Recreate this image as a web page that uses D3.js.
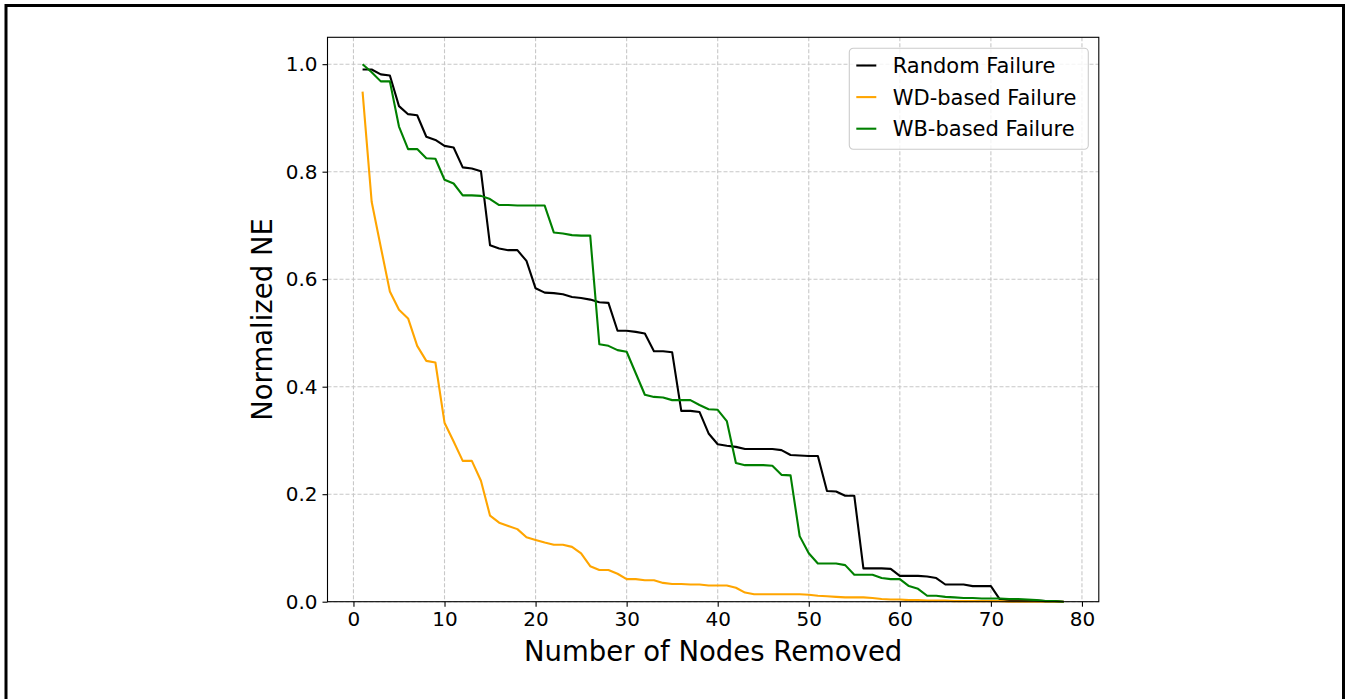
<!DOCTYPE html>
<html>
<head>
<meta charset="utf-8">
<script src="https://cdn.jsdelivr.net/npm/d3@7"></script>
<style>
  html, body { margin: 0; padding: 0; background: #fff; }
  svg { display: block; }
  text { font-family: "DejaVu Sans", sans-serif; fill: #000; }
</style>
</head>
<body>
<svg id="chart" width="1349" height="699"></svg>
<script>
// Nodes removed (x values)
const nodes = d3.range(1, 79);

// Normalized network efficiency after each removal
const randomFailure = [
  0.990, 0.990, 0.981, 0.979, 0.922, 0.907, 0.905, 0.865, 0.859, 0.848,
  0.845, 0.808, 0.806, 0.801, 0.663, 0.657, 0.654, 0.654, 0.634, 0.583,
  0.575, 0.574, 0.572, 0.567, 0.565, 0.562, 0.557, 0.556, 0.504, 0.504,
  0.502, 0.499, 0.466, 0.466, 0.464, 0.355, 0.355, 0.353, 0.313, 0.293,
  0.290, 0.288, 0.284, 0.284, 0.284, 0.284, 0.282, 0.273, 0.272, 0.271,
  0.271, 0.206, 0.205, 0.197, 0.197, 0.062, 0.062, 0.062, 0.061, 0.048,
  0.048, 0.048, 0.047, 0.044, 0.032, 0.032, 0.032, 0.029, 0.029, 0.029,
  0.004, 0.003, 0.003, 0.002, 0.002, 0.001, 0.001, 0.000
];
const wdFailure = [
  0.949, 0.744, 0.660, 0.577, 0.543, 0.527, 0.476, 0.448, 0.445, 0.333,
  0.298, 0.262, 0.262, 0.225, 0.160, 0.147, 0.141, 0.135, 0.120, 0.115,
  0.110, 0.106, 0.106, 0.102, 0.090, 0.066, 0.059, 0.059, 0.052, 0.042,
  0.042, 0.040, 0.040, 0.035, 0.033, 0.033, 0.032, 0.032, 0.030, 0.030,
  0.030, 0.026, 0.017, 0.014, 0.014, 0.014, 0.014, 0.014, 0.014, 0.013,
  0.011, 0.010, 0.009, 0.008, 0.008, 0.008, 0.007, 0.005, 0.004, 0.004,
  0.003, 0.003, 0.002, 0.002, 0.002, 0.001, 0.001, 0.001, 0.001, 0.001,
  0.001, 0.000, 0.000, 0.000, 0.000, 0.000, 0.000, 0.000
];
const wbFailure = [
  1.000, 0.985, 0.968, 0.968, 0.884, 0.842, 0.842, 0.825, 0.824, 0.785,
  0.778, 0.756, 0.756, 0.755, 0.749, 0.738, 0.738, 0.737, 0.737, 0.737,
  0.737, 0.687, 0.685, 0.682, 0.681, 0.681, 0.479, 0.476, 0.468, 0.465,
  0.425, 0.385, 0.381, 0.380, 0.375, 0.375, 0.375, 0.366, 0.358, 0.357,
  0.336, 0.258, 0.254, 0.254, 0.254, 0.253, 0.236, 0.235, 0.122, 0.090,
  0.071, 0.071, 0.071, 0.068, 0.050, 0.050, 0.050, 0.044, 0.042, 0.042,
  0.029, 0.024, 0.011, 0.011, 0.009, 0.008, 0.007, 0.007, 0.006, 0.006,
  0.006, 0.005, 0.005, 0.004, 0.003, 0.001, 0.001, 0.000
];

const seriesNames = ["Random Failure", "WD-based Failure", "WB-based Failure"];
const seriesColors = ["#000000", "#ffa500", "#008000"];
const xTicks = [0, 10, 20, 30, 40, 50, 60, 70, 80];
const yTicks = [0.0, 0.2, 0.4, 0.6, 0.8, 1.0];

const svg = d3.select("#chart");

// outer frame
svg.append("rect")
  .attr("x", 6).attr("y", 5.5)
  .attr("width", 1337.5).attr("height", 700)
  .attr("fill", "none").attr("stroke", "#000").attr("stroke-width", 3);

const plot = { left: 327.5, top: 37.3, right: 1098.8, bottom: 601.7 };

const x = d3.scaleLinear().domain([-2.85, 81.85]).range([plot.left, plot.right]);
const y = d3.scaleLinear().domain([0, 1.05]).range([plot.bottom, plot.top]);

// grid
const grid = svg.append("g").attr("class", "grid")
  .attr("stroke", "#c8c8c8").attr("stroke-width", 1.1)
  .attr("stroke-dasharray", "4,2");
grid.selectAll("line.gx").data(xTicks).join("line")
  .attr("class", "gx")
  .attr("x1", d => x(d)).attr("x2", d => x(d))
  .attr("y1", plot.top).attr("y2", plot.bottom);
grid.selectAll("line.gy").data(yTicks).join("line")
  .attr("class", "gy")
  .attr("x1", plot.left).attr("x2", plot.right)
  .attr("y1", d => y(d)).attr("y2", d => y(d));

// series lines
const series = [randomFailure, wdFailure, wbFailure];
const line = d3.line()
  .x((d, i) => x(nodes[i]))
  .y(d => y(d));
svg.append("g").attr("class", "lines")
  .selectAll("path").data(series).join("path")
  .attr("d", d => line(d))
  .attr("fill", "none")
  .attr("stroke", (d, i) => seriesColors[i])
  .attr("stroke-width", 2.1)
  .attr("stroke-linejoin", "round")
  .attr("stroke-linecap", "butt");

// axes
const xAxis = d3.axisBottom(x).tickValues(xTicks).tickFormat(d3.format("d"))
  .tickSize(5).tickPadding(5);
const yAxis = d3.axisLeft(y).tickValues(yTicks).tickFormat(d3.format(".1f"))
  .tickSize(5).tickPadding(5);

const gx = svg.append("g").attr("transform", `translate(0,${plot.bottom})`).call(xAxis);
const gy = svg.append("g").attr("transform", `translate(${plot.left},0)`).call(yAxis);
[gx, gy].forEach(g => {
  g.select(".domain").remove();
  g.selectAll(".tick line").attr("stroke", "#000").attr("stroke-width", 1.1);
  g.selectAll(".tick text").attr("font-family", "DejaVu Sans").attr("font-size", 20).attr("fill", "#000");
});

// spines
svg.append("rect")
  .attr("x", plot.left).attr("y", plot.top)
  .attr("width", plot.right - plot.left).attr("height", plot.bottom - plot.top)
  .attr("fill", "none").attr("stroke", "#000").attr("stroke-width", 1.1);

// axis titles
svg.append("text")
  .attr("x", (plot.left + plot.right) / 2).attr("y", 661)
  .attr("text-anchor", "middle").attr("font-size", 27.5)
  .text("Number of Nodes Removed");
svg.append("text")
  .attr("transform", `translate(272,${(plot.top + plot.bottom) / 2}) rotate(-90)`)
  .attr("text-anchor", "middle").attr("font-size", 27.5)
  .text("Normalized NE");

// legend
const lg = svg.append("g").attr("transform", "translate(849.3,48.3)");
lg.append("rect")
  .attr("width", 239).attr("height", 101).attr("rx", 4)
  .attr("fill", "#fff").attr("fill-opacity", 0.8)
  .attr("stroke", "#cccccc").attr("stroke-width", 1.1);
const items = lg.selectAll("g.item").data(seriesNames).join("g")
  .attr("class", "item")
  .attr("transform", (d, i) => `translate(0,${17.2 + i * 31.6})`);
items.append("line")
  .attr("x1", 7).attr("x2", 27).attr("y1", 0).attr("y2", 0)
  .attr("stroke", (d, i) => seriesColors[i]).attr("stroke-width", 2.1);
items.append("text")
  .attr("x", 43.4).attr("dy", "0.36em").attr("font-size", 21)
  .text(d => d);
</script>
</body>
</html>
